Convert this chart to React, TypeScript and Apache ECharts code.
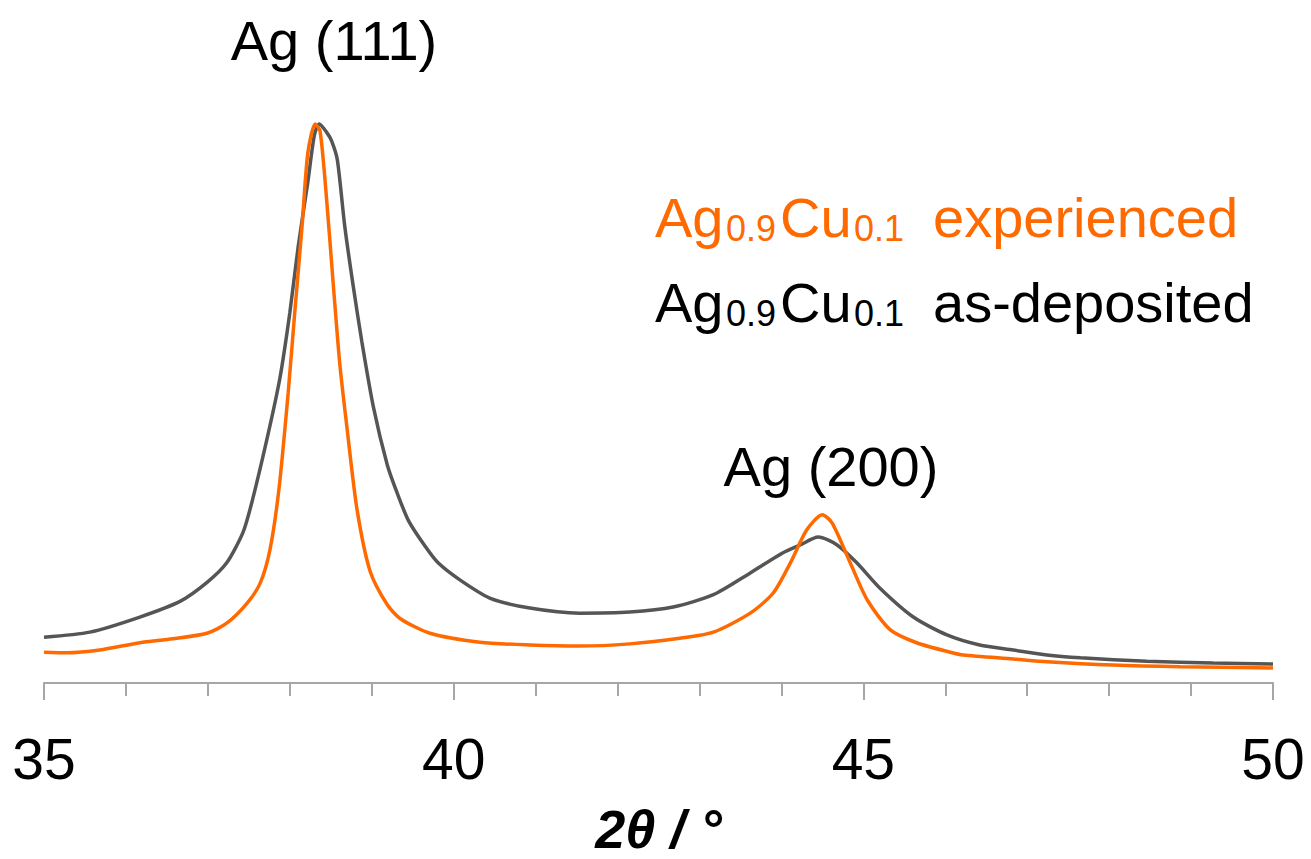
import React, { useEffect, useRef } from "react";
import * as echarts from "echarts";

// 2θ (degrees) and normalised intensity
const asDepositedX = [
  35.0, 35.56, 36.17, 36.66, 36.99, 37.23, 37.43, 37.54, 37.73, 37.88, 38.0, 38.1, 38.22, 38.3, 38.36,
  38.45, 38.51, 38.58, 38.67, 38.77, 38.88, 39.02, 39.19, 39.31, 39.45, 39.65, 39.81, 40.08, 40.44,
  40.93, 41.54, 42.15, 42.68, 43.17, 43.62, 44.02, 44.23, 44.45, 44.68, 44.92, 45.2, 45.61, 46.02,
  46.42, 46.83, 47.24, 47.65, 48.46, 49.27, 50.0,
];
const asDepositedY = [
  8.2, 9.1, 11.8, 14.6, 18.0, 21.5, 27.0, 32.5, 44.2, 54.6, 66.2, 77.8, 89.6, 98.0, 100,
  98.5, 97.0, 93.6, 81.8, 71.4, 61.0, 49.4, 39.0, 34.0, 29.0, 24.5, 21.5, 18.4, 15.2,
  13.4, 12.5, 12.7, 13.6, 15.8, 19.7, 23.3, 24.7, 26.1, 24.7, 21.5, 17.0, 11.8, 8.6,
  6.8, 5.9, 5.0, 4.5, 3.9, 3.6, 3.4,
];
const experiencedX = [
  35.0, 35.28, 35.68, 36.17, 36.57, 36.99, 37.23, 37.48, 37.64, 37.76, 37.87, 37.98, 38.06, 38.15,
  38.22, 38.31, 38.37, 38.45, 38.53, 38.61, 38.7, 38.82, 38.98, 39.19, 39.35, 39.71, 40.32, 40.93,
  41.54, 42.15, 42.76, 43.17, 43.62, 43.9, 44.11, 44.31, 44.5, 44.62, 44.84, 45.05, 45.33, 45.65,
  46.06, 46.22, 46.83, 47.24, 48.05, 48.87, 50.0,
];
const experiencedY = [
  5.5, 5.4, 5.9, 7.2, 7.9, 8.9, 10.7, 14.3, 17.9, 24.0, 35.0, 51.9, 66.2, 81.8,
  94.8, 100, 98.7, 86.4, 71.4, 57.1, 45.4, 31.1, 20.0, 14.0, 11.5, 8.9, 7.3, 6.8,
  6.6, 7.0, 8.0, 9.1, 12.5, 16.1, 21.5, 27.4, 30.1, 28.6, 21.5, 14.8, 9.5, 7.2,
  5.5, 5.0, 4.3, 3.8, 3.2, 2.9, 2.7,
];

const xMin = 35;
const xMax = 50;
const xInterval = 5;
const peakLabels = ["Ag (111)", "Ag (200)"];
const seriesNames = ["as-deposited", "experienced"];
const axisTitle = "2θ / °";

const ORANGE = "#ff6a00";
const GRAY = "#555555";
const FONT = "'Liberation Sans', Arial, Helvetica, sans-serif";

function zip(xs: number[], ys: number[]) {
  return xs.map((x, i) => [x, ys[i]]);
}

function txt(text: string, x: number, y: number, size: number, color: string, align = "left") {
  return {
    type: "text",
    x,
    y,
    silent: true,
    style: {
      text,
      fill: color,
      fontSize: size,
      fontFamily: FONT,
      align,
      verticalAlign: "middle",
    },
  };
}

function legendLine(prefixColor: string, label: string, yMain: number) {
  const ySub = yMain + 11;
  return [
    txt("Ag", 655, yMain, 56, prefixColor),
    txt("0.9", 726, ySub, 36, prefixColor),
    txt("Cu", 780, yMain, 56, prefixColor),
    txt("0.1", 854, ySub, 36, prefixColor),
    txt(label, 933, yMain, 56, prefixColor),
  ];
}

export default function App() {
  const ref = useRef<HTMLDivElement>(null);
  useEffect(() => {
    if (!ref.current) return;
    const chart = echarts.init(ref.current, null, { renderer: "svg" });
    chart.setOption({
      animation: false,
      backgroundColor: "#ffffff",
      grid: { left: 44, right: 38, top: 124, bottom: 176, containLabel: false, outerBoundsMode: "none" },
      xAxis: {
        type: "value",
        min: xMin,
        max: xMax,
        interval: xInterval,
        name: axisTitle,
        nameLocation: "middle",
        nameGap: 146,
        nameTextStyle: {
          fontSize: 54,
          fontWeight: "bold",
          fontStyle: "italic",
          fontFamily: FONT,
          color: "#000",
          verticalAlign: "middle",
        },
        axisLine: { show: true, onZero: false, lineStyle: { color: "#a6a6a6", width: 2 } },
        axisTick: { show: true, length: 17, lineStyle: { color: "#a6a6a6", width: 2 } },
        minorTick: { show: true, splitNumber: 5, length: 13, lineStyle: { color: "#a6a6a6", width: 2 } },
        splitLine: { show: false },
        minorSplitLine: { show: false },
        axisLabel: {
          fontSize: 57,
          fontFamily: FONT,
          color: "#000",
          margin: 47,
          showMinLabel: true,
          showMaxLabel: true,
        },
      },
      yAxis: {
        type: "value",
        min: 0,
        max: 100,
        show: false,
        splitLine: { show: false },
      },
      series: [
        {
          name: seriesNames[0],
          type: "line",
          data: zip(asDepositedX, asDepositedY),
          showSymbol: false,
          symbol: "none",
          smooth: 0.25,
          clip: false,
          lineStyle: { color: GRAY, width: 3.5 },
          itemStyle: { color: GRAY },
        },
        {
          name: seriesNames[1],
          type: "line",
          data: zip(experiencedX, experiencedY),
          showSymbol: false,
          symbol: "none",
          smooth: 0.25,
          clip: false,
          lineStyle: { color: ORANGE, width: 3.5 },
          itemStyle: { color: ORANGE },
        },
      ],
      graphic: [
        txt(peakLabels[0], 334, 40, 56, "#000", "center"),
        txt(peakLabels[1], 831, 466, 56, "#000", "center"),
        ...legendLine(ORANGE, "experienced", 217),
        ...legendLine("#000", "as-deposited", 302),
      ],
    });
    return () => chart.dispose();
  }, []);
  return (
    <div
      ref={ref}
      style={{ position: "fixed", left: 0, top: 0, width: 1311, height: 859, background: "#fff" }}
    />
  );
}
